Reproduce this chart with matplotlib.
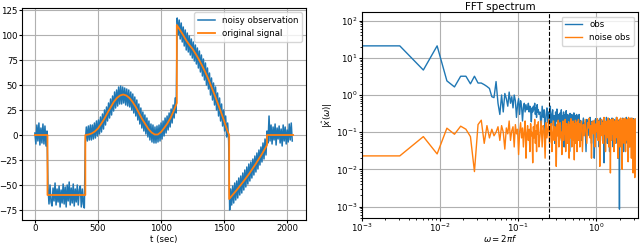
import matplotlib
matplotlib.use('Agg')
import matplotlib.pyplot as plt
import numpy as np

obs_step = 8
obs_vals = [
    # 0 .. 96 (level 0)
    2, -9, 10, -6, 12, -10, 7, -8, 11, -9, 9, -11, 4,
    # 104 .. 392 (level -60)
    -52, -69, -50, -67, -71, -53, -66, -48, -70, -54, -67, -51, -72, -55, -68,
    -49, -69, -52, -72, -50, -66, -47, -70, -53, -68, -49, -71, -54, -67, -50,
    -70, -55, -51, -72, -54, -69, -73,
    # 400 .. 1120 (smooth hump)
    -7, 8, -6, 9, -5, 10, -5, 10, -4, 12, -3, 14, -1, 15, 1, 18, 3, 21, 6, 25,
    10, 28, 14, 32, 17, 36, 20, 39, 24, 43, 27, 45, 29, 48, 31, 49, 31, 48, 32, 47,
    30, 46, 29, 45, 28, 43, 25, 41, 22, 38, 19, 35, 15, 31, 11, 27, 7, 23, 4, 20,
    1, 17, -2, 14, -5, 11, -7, 10, -8, 8, -8, 9, -7, 10, -6, 12, -4, 14, -1, 17,
    2, 19, 5, 22, 8, 26, 12, 30, 17, 37, 22,
    # 1128 .. 1536 (falling ramp)
    117, 100, 115, 96, 112, 93, 108, 89, 105, 85, 102, 83, 99, 80, 96, 77, 93, 74,
    90, 71, 87, 67, 84, 63, 80, 59, 76, 55, 72, 50, 67, 46, 62, 40, 57, 35, 52, 30,
    48, 25, 42, 19, 37, 14, 31, 9, 25, 4, 19, -2, 12, -6,
    # 1544 .. 1832 (rising ramp)
    -75, -54, -70, -51, -68, -48, -65, -46, -63, -43, -60, -41, -58, -38, -55,
    -35, -52, -32, -49, -29, -46, -27, -43, -24, -40, -21, -37, -18, -34, -15,
    -30, -12, -27, -8, -24, -4, -20,
    # 1840 .. 2040 (level 0)
    4, -8, 19, -6, 10, -9, 8, -5, 11, -10, 7, -4, 9, -8, 6, -11, 10, -6, 8, -9,
    5, -7, 11, -5, 12, -6,
]

# original (clean) signal, breakpoints
sig_t = [0, 100, 100, 400, 400, 425, 450, 475, 500, 525, 550, 575, 600, 625,
         650, 675, 700, 725, 750, 775, 800, 825, 850, 875, 900, 925, 950, 975,
         1000, 1025, 1050, 1075, 1100, 1125, 1125, 1150, 1175, 1200, 1225,
         1250, 1275, 1300, 1325, 1350, 1375, 1400, 1425, 1450, 1475, 1500,
         1525, 1540, 1540, 1560, 1600, 1650, 1700, 1750, 1800, 1840, 1840, 2047]
sig_v = [0, 0, -60, -60, 0, 0.5, 1.5, 3.5, 6.5, 11, 16, 22, 27.5, 33,
         37, 39.5, 40.5, 39.5, 37, 33, 28, 22, 16, 11, 6, 2.5, 0.5, 0.5,
         3, 7, 11.5, 17, 24, 32, 110, 105, 100, 94.5, 90,
         86, 81, 75.5, 69.5, 63, 56, 48, 40, 31.5, 23, 14,
         4.5, 0, -64, -61, -55, -47, -38.5, -29, -19, -10, 0, 0]

# ---- right panel: FFT magnitudes ----
dw = 2 * np.pi / 2048
k_lo = np.arange(0, 61)            # every bin up to ~0.18
k_mid = np.arange(62, 201, 2)      # every 2nd bin up to ~0.6
k_hi = np.arange(204, 1025, 6)     # every 6th bin up to pi

obs_lo = [21, 21, 4.7, 21, 2.4, 1.65, 3.2, 3.2, 2.0, 3.2, 2.1, 2.1, 1.9, 1.7,
          1.5, 0.9, 0.85, 2.3, 0.6, 0.3, 1.0, 0.35, 1.1, 0.8, 0.5, 1.2, 0.6,
          0.9, 0.45, 1.0, 0.7, 0.25, 0.55, 0.8, 0.3, 0.7, 0.5, 0.2, 0.45, 0.6,
          0.35, 0.55, 0.4, 0.45, 0.6, 0.35, 0.5, 0.4, 0.19, 0.45, 0.35, 0.5,
          0.4, 0.6, 0.3, 0.45, 0.25, 0.55, 0.35, 0.4, 0.3]
noise_lo = [0.023, 0.023, 0.076, 0.026, 0.128, 0.088, 0.145, 0.12, 0.076,
            0.0087, 0.16, 0.21, 0.05, 0.15, 0.07, 0.12, 0.08, 0.1, 0.14, 0.06,
            0.15, 0.1, 0.035, 0.13, 0.09, 0.2, 0.06, 0.11, 0.14, 0.04, 0.16,
            0.09, 0.12, 0.025, 0.1, 0.18, 0.07, 0.13, 0.04, 0.11, 0.2, 0.02,
            0.09, 0.15, 0.06, 0.12, 0.03, 0.17, 0.08, 0.1, 0.015, 0.14, 0.07,
            0.22, 0.05, 0.11, 0.03, 0.16, 0.09, 0.19, 0.04]

obs_mid = [0.35, 0.12, 0.5, 0.25, 0.4, 0.08, 0.3, 0.45, 0.18, 0.35,
           0.22, 0.5, 0.1, 0.3, 0.4, 0.15, 0.28, 0.05, 0.35, 0.2,
           0.42, 0.12, 0.3, 0.25, 0.06, 0.33, 0.18, 0.4, 0.1, 0.27,
           0.22, 0.35, 0.04, 0.3, 0.15, 0.25, 0.38, 0.09, 0.2, 0.3,
           0.12, 0.28, 0.22, 0.03, 0.32, 0.16, 0.25, 0.1, 0.3, 0.2,
           0.07, 0.26, 0.18, 0.33, 0.12, 0.22, 0.05, 0.28, 0.15, 0.24,
           0.3, 0.1, 0.2, 0.27, 0.08, 0.23, 0.16, 0.3, 0.12, 0.21]
noise_mid = [0.08, 0.2, 0.04, 0.15, 0.11, 0.02, 0.18, 0.07, 0.13, 0.22,
             0.05, 0.12, 0.17, 0.03, 0.09, 0.2, 0.06, 0.14, 0.1, 0.012,
             0.16, 0.08, 0.21, 0.04, 0.12, 0.18, 0.07, 0.1, 0.025, 0.15,
             0.2, 0.06, 0.13, 0.09, 0.22, 0.03, 0.11, 0.17, 0.05, 0.14,
             0.08, 0.19, 0.02, 0.12, 0.16, 0.07, 0.23, 0.1, 0.04, 0.15,
             0.11, 0.2, 0.06, 0.13, 0.018, 0.17, 0.09, 0.21, 0.05, 0.12,
             0.15, 0.03, 0.19, 0.08, 0.14, 0.22, 0.06, 0.1, 0.17, 0.04]

obs_hi = [0.2, 0.06, 0.15, 0.24, 0.1, 0.18, 0.03, 0.22, 0.12, 0.16,
          0.08, 0.25, 0.14, 0.05, 0.2, 0.11, 0.19, 0.02, 0.15, 0.23,
          0.1, 0.17, 0.07, 0.21, 0.13, 0.04, 0.18, 0.24, 0.09, 0.15,
          0.2, 0.06, 0.12, 0.22, 0.015, 0.17, 0.1, 0.19, 0.08, 0.25,
          0.13, 0.05, 0.21, 0.16, 0.11, 0.23, 0.03, 0.18, 0.12, 0.2,
          0.07, 0.15, 0.24, 0.1, 0.19, 0.04, 0.14, 0.22, 0.09, 0.17,
          0.12, 0.2, 0.05, 0.16, 0.25, 0.08, 0.18, 0.13, 0.02, 0.21,
          0.11, 0.17, 0.06, 0.00085, 0.19, 0.14, 0.23, 0.09, 0.16, 0.04,
          0.2, 0.12, 0.18, 0.07, 0.24, 0.1, 0.15, 0.03, 0.21, 0.13,
          0.17, 0.08, 0.22, 0.11, 0.19, 0.05, 0.16, 0.25, 0.1, 0.14,
          0.2, 0.06, 0.18, 0.12, 0.23, 0.02, 0.15, 0.19, 0.09, 0.21,
          0.13, 0.17, 0.04, 0.22, 0.1, 0.16, 0.24, 0.07, 0.19, 0.12,
          0.18, 0.03, 0.21, 0.14, 0.09, 0.2, 0.15, 0.06, 0.23, 0.11,
          0.17, 0.025, 0.19, 0.13, 0.22, 0.05, 0.16]
noise_hi = [0.12, 0.2, 0.03, 0.16, 0.08, 0.22, 0.1, 0.05, 0.18, 0.13,
            0.24, 0.07, 0.15, 0.02, 0.19, 0.11, 0.09, 0.21, 0.04, 0.14,
            0.17, 0.1, 0.23, 0.06, 0.13, 0.2, 0.012, 0.15, 0.08, 0.22,
            0.11, 0.18, 0.05, 0.14, 0.25, 0.09, 0.16, 0.03, 0.2, 0.12,
            0.07, 0.19, 0.13, 0.24, 0.04, 0.17, 0.1, 0.21, 0.008, 0.15,
            0.22, 0.06, 0.12, 0.18, 0.09, 0.23, 0.14, 0.03, 0.2, 0.11,
            0.16, 0.05, 0.21, 0.1, 0.13, 0.25, 0.07, 0.18, 0.12, 0.02,
            0.19, 0.09, 0.15, 0.22, 0.04, 0.17, 0.11, 0.24, 0.06, 0.14,
            0.2, 0.1, 0.01, 0.16, 0.12, 0.23, 0.08, 0.18, 0.13, 0.05,
            0.21, 0.15, 0.09, 0.24, 0.03, 0.17, 0.11, 0.2, 0.07, 0.14,
            0.22, 0.06, 0.19, 0.12, 0.016, 0.16, 0.25, 0.09, 0.13, 0.2,
            0.04, 0.18, 0.11, 0.23, 0.07, 0.15, 0.21, 0.1, 0.02, 0.17,
            0.13, 0.24, 0.06, 0.19, 0.12, 0.22, 0.008, 0.16, 0.09, 0.2,
            0.14, 0.05, 0.21, 0.11, 0.006, 0.07, 0.23]

cutoff = 0.25  # dashed marker

fs = 6.2

fig = plt.figure(figsize=(6.4, 2.45), dpi=100)

# left: time domain
ax1 = fig.add_axes([22 / 640, 25 / 245, 284 / 640, 212 / 245])
t_obs = np.arange(len(obs_vals)) * obs_step
ax1.plot(t_obs, obs_vals, color='C0', lw=1.1, label='noisy observation')
ax1.plot(sig_t, sig_v, color='C1', lw=1.3, label='original signal')
ax1.set_xlim(-102, 2149)
ax1.set_ylim(-85, 127)
ax1.set_xticks([0, 500, 1000, 1500, 2000])
ax1.set_yticks([-75, -50, -25, 0, 25, 50, 75, 100, 125])
ax1.grid(True)
ax1.set_xlabel('t (sec)', fontsize=fs, labelpad=1)
ax1.tick_params(labelsize=fs, pad=1, length=2)
ax1.legend(loc='upper right', fontsize=fs)

# right: spectrum
ax2 = fig.add_axes([361.7 / 640, 27.3 / 245, 276.3 / 640, 205.4 / 245])
w = np.concatenate([k_lo, k_mid, k_hi]) * dw
ax2.loglog(w, obs_lo + obs_mid + obs_hi, color='C0', lw=1.0, label='obs')
ax2.loglog(w, noise_lo + noise_mid + noise_hi, color='C1', lw=1.0, label='noise obs')
ax2.axvline(cutoff, color='k', ls='--', lw=0.8)
ax2.set_xlim(1e-3, 3.4)
ax2.set_ylim(5e-4, 168)
ax2.grid(True)
ax2.set_title('FFT spectrum', fontsize=7.5, pad=2)
ax2.set_xlabel(r'$\omega = 2\pi f$', fontsize=fs, labelpad=-1)
ax2.set_ylabel(r'$|\hat{x}(\omega)|$', fontsize=fs, labelpad=1)
ax2.tick_params(which='major', labelsize=fs, pad=1, length=2)
ax2.tick_params(which='minor', length=1.2)
ax2.legend(loc='upper right', fontsize=fs)

fig.savefig('out.png', dpi=100)
